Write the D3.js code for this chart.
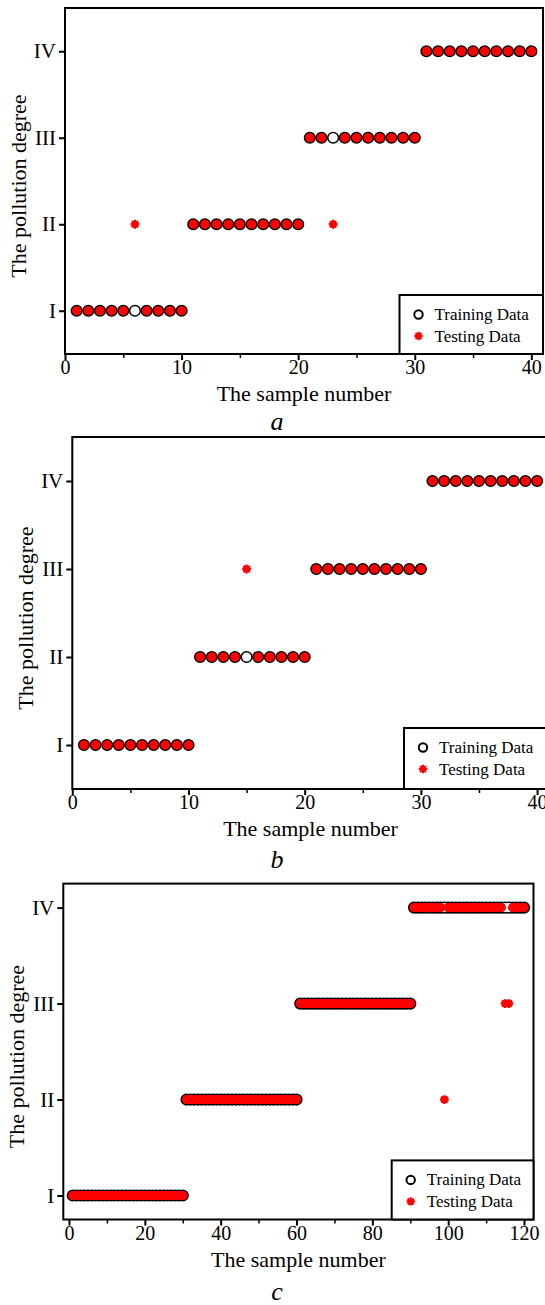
<!DOCTYPE html>
<html>
<head>
<meta charset="utf-8">
<script src="https://cdn.jsdelivr.net/npm/d3@7"></script>
<style>
  body { margin: 0; background: #fff; }
  text { font-family: "Liberation Serif", "Times New Roman", serif; fill: #000; }
</style>
</head>
<body>
<svg id="chart"></svg>
<script>
// Tick labels
const degreeLabels = ["I", "II", "III", "IV"];
const xTicks40 = [0, 10, 20, 30, 40];
const xMinor40 = [5, 15, 25, 35];
const xTicks120 = [0, 20, 40, 60, 80, 100, 120];
const xMinor120 = [10, 30, 50, 70, 90, 110];
const legendLabels = ["Training Data", "Testing Data"];

// Panel a: pollution degree per sample (sample number = index + 1)
const trainingA = [1, 1, 1, 1, 1, 1, 1, 1, 1, 1, 2, 2, 2, 2, 2, 2, 2, 2, 2, 2,
  3, 3, 3, 3, 3, 3, 3, 3, 3, 3, 4, 4, 4, 4, 4, 4, 4, 4, 4, 4];
const testingA = [1, 1, 1, 1, 1, 2, 1, 1, 1, 1, 2, 2, 2, 2, 2, 2, 2, 2, 2, 2,
  3, 3, 2, 3, 3, 3, 3, 3, 3, 3, 4, 4, 4, 4, 4, 4, 4, 4, 4, 4];

// Panel b
const trainingB = [1, 1, 1, 1, 1, 1, 1, 1, 1, 1, 2, 2, 2, 2, 2, 2, 2, 2, 2, 2,
  3, 3, 3, 3, 3, 3, 3, 3, 3, 3, 4, 4, 4, 4, 4, 4, 4, 4, 4, 4];
const testingB = [1, 1, 1, 1, 1, 1, 1, 1, 1, 1, 2, 2, 2, 2, 3, 2, 2, 2, 2, 2,
  3, 3, 3, 3, 3, 3, 3, 3, 3, 3, 4, 4, 4, 4, 4, 4, 4, 4, 4, 4];

// Panel c
const trainingC = [
  1, 1, 1, 1, 1, 1, 1, 1, 1, 1, 1, 1, 1, 1, 1, 1, 1, 1, 1, 1, 1, 1, 1, 1, 1, 1, 1, 1, 1, 1,
  2, 2, 2, 2, 2, 2, 2, 2, 2, 2, 2, 2, 2, 2, 2, 2, 2, 2, 2, 2, 2, 2, 2, 2, 2, 2, 2, 2, 2, 2,
  3, 3, 3, 3, 3, 3, 3, 3, 3, 3, 3, 3, 3, 3, 3, 3, 3, 3, 3, 3, 3, 3, 3, 3, 3, 3, 3, 3, 3, 3,
  4, 4, 4, 4, 4, 4, 4, 4, 4, 4, 4, 4, 4, 4, 4, 4, 4, 4, 4, 4, 4, 4, 4, 4, 4, 4, 4, 4, 4, 4];
const testingC = [
  1, 1, 1, 1, 1, 1, 1, 1, 1, 1, 1, 1, 1, 1, 1, 1, 1, 1, 1, 1, 1, 1, 1, 1, 1, 1, 1, 1, 1, 1,
  2, 2, 2, 2, 2, 2, 2, 2, 2, 2, 2, 2, 2, 2, 2, 2, 2, 2, 2, 2, 2, 2, 2, 2, 2, 2, 2, 2, 2, 2,
  3, 3, 3, 3, 3, 3, 3, 3, 3, 3, 3, 3, 3, 3, 3, 3, 3, 3, 3, 3, 3, 3, 3, 3, 3, 3, 3, 3, 3, 3,
  4, 4, 4, 4, 4, 4, 4, 4, 2, 4, 4, 4, 4, 4, 4, 4, 4, 4, 4, 4, 4, 4, 4, 4, 3, 3, 4, 4, 4, 4];

const width = 545;
const height = 1305;

const svg = d3.select("#chart").attr("width", width).attr("height", height);

// Layout of each panel
const panels = [
  { training: trainingA, testing: testingA, left: 65, right: 543, top: 8, bottom: 354,
    xDomain: [0, 41], yDomain: [0.5, 4.5], major: xTicks40, minor: xMinor40,
    letter: "a", letterY: 430, legend: { x: 399.5, y: 295, w: 143.5 } },
  { training: trainingB, testing: testingB, left: 72.3, right: 548.7, top: 437, bottom: 789,
    xDomain: [0, 41], yDomain: [0.5, 4.5], major: xTicks40, minor: xMinor40,
    letter: "b", letterY: 868, legend: { x: 404, y: 728, w: 150 } },
  { training: trainingC, testing: testingC, left: 63.3, right: 533.5, top: 883.6, bottom: 1219.5,
    xDomain: [-1.5, 122.5], yDomain: [0.75, 4.25], major: xTicks120, minor: xMinor120,
    letter: "c", letterY: 1300, legend: { x: 391.7, y: 1160.4, w: 141.8 } }
];

const red = "#ff0000";
const r = 5.2;

// 8-spoke asterisk marker
function starPath(s) {
  const d = s * 0.7071;
  return `M${-s},0L${s},0M0,${-s}L0,${s}M${-d},${-d}L${d},${d}M${-d},${d}L${d},${-d}`;
}

panels.forEach((p) => {
  const x = d3.scaleLinear().domain(p.xDomain).range([p.left, p.right]);
  const y = d3.scaleLinear().domain(p.yDomain).range([p.bottom, p.top]);
  const g = svg.append("g");

  const points = p.training.map((lvl, i) => ({
    n: i + 1,
    train: lvl,
    test: p.testing[i],
    match: lvl === p.testing[i]
  }));

  // y axis
  g.append("g")
    .attr("transform", `translate(${p.left},0)`)
    .call(d3.axisLeft(y).tickValues([1, 2, 3, 4]).tickFormat((d) => degreeLabels[d - 1])
      .tickSize(6).tickPadding(3))
    .call((a) => a.select(".domain").remove())
    .call((a) => a.selectAll("line").attr("stroke-width", 2))
    .call((a) => a.selectAll("text").attr("font-size", 21).attr("font-family", null));

  // x axis, major and minor ticks
  g.append("g")
    .attr("transform", `translate(0,${p.bottom})`)
    .call(d3.axisBottom(x).tickValues(p.major).tickSize(6))
    .call((a) => a.select(".domain").remove())
    .call((a) => a.selectAll("line").attr("stroke-width", 2))
    .call((a) => a.selectAll("text").attr("font-size", 20).attr("font-family", null)
      .attr("dy", null).attr("y", 20));

  g.append("g")
    .attr("transform", `translate(0,${p.bottom})`)
    .call(d3.axisBottom(x).tickValues(p.minor).tickSize(4).tickFormat(""))
    .call((a) => a.select(".domain").remove())
    .call((a) => a.selectAll("line").attr("stroke-width", 1.5));

  // frame
  g.append("rect")
    .attr("x", p.left).attr("y", p.top)
    .attr("width", p.right - p.left).attr("height", p.bottom - p.top)
    .attr("fill", "none").attr("stroke", "#000").attr("stroke-width", 2);

  // training circles: outlines first, then fills (white first so red sits on top)
  g.append("g").selectAll("circle")
    .data(points)
    .join("circle")
    .attr("cx", (d) => x(d.n)).attr("cy", (d) => y(d.train))
    .attr("r", r).attr("fill", "#000").attr("stroke", "#000").attr("stroke-width", 1.8);

  g.append("g").selectAll("circle")
    .data(points.filter((d) => !d.match).concat(points.filter((d) => d.match)))
    .join("circle")
    .attr("cx", (d) => x(d.n)).attr("cy", (d) => y(d.train))
    .attr("r", r - 0.6)
    .attr("fill", (d) => (d.match ? red : "#fff"));

  // testing stars
  g.append("g").selectAll("path")
    .data(points)
    .join("path")
    .attr("transform", (d) => `translate(${x(d.n)},${y(d.test)})`)
    .attr("d", starPath(4.4))
    .attr("fill", "none").attr("stroke", red).attr("stroke-width", 2.4);

  // axis titles
  g.append("text")
    .attr("transform", `translate(${p.left - 39},${(p.top + p.bottom) / 2 + 5}) rotate(-90)`)
    .attr("text-anchor", "middle")
    .attr("font-size", 22)
    .text("The pollution degree");

  g.append("text")
    .attr("x", (p.left + p.right) / 2)
    .attr("y", p.bottom + 47)
    .attr("text-anchor", "middle")
    .attr("font-size", 22)
    .text("The sample number");

  g.append("text")
    .attr("x", 277)
    .attr("y", p.letterY)
    .attr("text-anchor", "middle")
    .attr("font-size", 26)
    .attr("font-style", "italic")
    .text(p.letter);

  // legend
  const lg = g.append("g").attr("transform", `translate(${p.legend.x},${p.legend.y})`);
  lg.append("rect")
    .attr("width", p.legend.w).attr("height", p.bottom - p.legend.y)
    .attr("fill", "#fff").attr("stroke", "#000").attr("stroke-width", 2);
  lg.append("circle")
    .attr("cx", 19).attr("cy", 19.5).attr("r", 4.2)
    .attr("fill", "#fff").attr("stroke", "#000").attr("stroke-width", 2);
  lg.append("path")
    .attr("transform", "translate(19,41)")
    .attr("d", starPath(4.2))
    .attr("stroke", red).attr("stroke-width", 2.2);
  lg.selectAll("text.lab")
    .data(legendLabels)
    .join("text")
    .attr("class", "lab")
    .attr("x", 35)
    .attr("y", (d, i) => 25 + i * 21.5)
    .attr("font-size", 17)
    .text((d) => d);
});
</script>
</body>
</html>
